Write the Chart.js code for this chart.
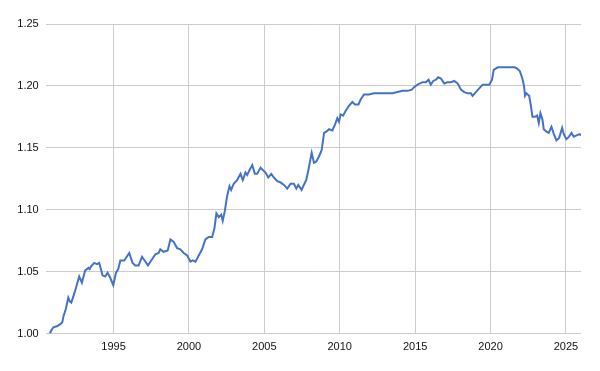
<!DOCTYPE html>
<html>
<head>
<meta charset="utf-8">
<script src="https://cdn.jsdelivr.net/npm/chart.js@4"></script>
<style>
  html, body { margin: 0; padding: 0; background: #fff; }
  #wrap { width: 600px; height: 371px; }
</style>
</head>
<body>
<div id="wrap"><canvas id="chart"></canvas></div>
<script>
// decimal years
const years = [
  1990.77, 1990.9, 1991.01, 1991.28, 1991.51, 1991.6, 1991.68, 1991.84, 1992.0, 1992.1,
  1992.2, 1992.44, 1992.72, 1992.9, 1993.12, 1993.34, 1993.42, 1993.5, 1993.72, 1993.9,
  1994.05, 1994.27, 1994.45, 1994.6, 1994.78, 1994.98, 1995.16, 1995.31, 1995.45, 1995.71,
  1996.04, 1996.26, 1996.44, 1996.66, 1996.89, 1997.06, 1997.28, 1997.5, 1997.77, 1997.99,
  1998.1, 1998.32, 1998.59, 1998.77, 1998.99, 1999.21, 1999.43, 1999.65, 1999.88, 2000.1,
  2000.25, 2000.43, 2000.65, 2000.87, 2001.09, 2001.31, 2001.54, 2001.69, 2001.82, 2001.98,
  2002.14, 2002.24, 2002.38, 2002.53, 2002.69, 2002.8, 2002.97, 2003.2, 2003.42, 2003.57,
  2003.75, 2003.86, 2004.02, 2004.2, 2004.37, 2004.53, 2004.75, 2004.9, 2005.08, 2005.26,
  2005.46, 2005.63, 2005.86, 2006.08, 2006.3, 2006.52, 2006.74, 2006.96, 2007.12, 2007.25,
  2007.47, 2007.62, 2007.78, 2007.92, 2008.14, 2008.29, 2008.45, 2008.62, 2008.8, 2008.96,
  2009.11, 2009.29, 2009.51, 2009.69, 2009.84, 2009.95, 2010.06, 2010.22, 2010.4, 2010.62,
  2010.84, 2011.01, 2011.24, 2011.39, 2011.61, 2011.94, 2012.28, 2012.61, 2012.94, 2013.27,
  2013.5, 2013.83, 2014.16, 2014.5, 2014.78, 2014.93, 2015.16, 2015.49, 2015.71, 2015.89,
  2016.04, 2016.2, 2016.38, 2016.53, 2016.71, 2016.93, 2017.15, 2017.37, 2017.59, 2017.82,
  2018.04, 2018.26, 2018.48, 2018.7, 2018.81, 2019.03, 2019.25, 2019.48, 2019.7, 2019.92,
  2020.1, 2020.21, 2020.48, 2020.76, 2021.04, 2021.38, 2021.6, 2021.76, 2021.94, 2022.11,
  2022.22, 2022.29, 2022.38, 2022.56, 2022.65, 2022.78, 2022.94, 2023.09, 2023.2, 2023.31,
  2023.44, 2023.53, 2023.71, 2023.86, 2024.04, 2024.2, 2024.37, 2024.55, 2024.75, 2024.86,
  2025.03, 2025.21, 2025.37, 2025.52, 2025.7, 2025.92, 2026.0
];

const values = [
  1.000, 1.003, 1.005, 1.006, 1.008, 1.009, 1.014, 1.020, 1.029, 1.026,
  1.025, 1.034, 1.046, 1.041, 1.051, 1.053, 1.052, 1.054, 1.057, 1.056,
  1.057, 1.047, 1.046, 1.049, 1.045, 1.039, 1.049, 1.052, 1.059, 1.059,
  1.065, 1.057, 1.055, 1.055, 1.062, 1.059, 1.055, 1.059, 1.064, 1.065,
  1.068, 1.066, 1.067, 1.076, 1.074, 1.069, 1.068, 1.065, 1.063, 1.058,
  1.059, 1.058, 1.063, 1.068, 1.076, 1.078, 1.078, 1.085, 1.097, 1.094,
  1.096, 1.091, 1.099, 1.111, 1.119, 1.116, 1.121, 1.124, 1.129, 1.124,
  1.130, 1.128, 1.132, 1.136, 1.129, 1.129, 1.134, 1.132, 1.130, 1.126,
  1.129, 1.126, 1.123, 1.122, 1.120, 1.117, 1.121, 1.121, 1.117, 1.120,
  1.116, 1.120, 1.124, 1.132, 1.146, 1.138, 1.139, 1.143, 1.148, 1.162,
  1.163, 1.165, 1.164, 1.169, 1.174, 1.171, 1.177, 1.176, 1.180, 1.184,
  1.187, 1.185, 1.185, 1.189, 1.193, 1.193, 1.194, 1.194, 1.194, 1.194,
  1.194, 1.195, 1.196, 1.196, 1.197, 1.199, 1.201, 1.203, 1.203, 1.205,
  1.201, 1.204, 1.205, 1.207, 1.206, 1.202, 1.203, 1.203, 1.204, 1.202,
  1.197, 1.195, 1.194, 1.194, 1.192, 1.195, 1.198, 1.201, 1.201, 1.201,
  1.205, 1.213, 1.215, 1.215, 1.215, 1.215, 1.215, 1.214, 1.212, 1.206,
  1.200, 1.192, 1.194, 1.192, 1.186, 1.175, 1.175, 1.176, 1.170, 1.178,
  1.173, 1.165, 1.163, 1.162, 1.167, 1.161, 1.156, 1.158, 1.166, 1.161,
  1.157, 1.159, 1.162, 1.159, 1.160, 1.161, 1.160
];

const xTicks = [1995, 2000, 2005, 2010, 2015, 2020, 2025];
const yTicks = [1.00, 1.05, 1.10, 1.15, 1.20, 1.25];

const points = years.map((y, i) => ({ x: y, y: values[i] }));

const ctx = document.getElementById('chart').getContext('2d');
new Chart(ctx, {
    type: 'line',
    data: {
        datasets: [{
            data: points,
            borderColor: '#4472c4',
            borderWidth: 2,
            pointRadius: 0,
            tension: 0,
            fill: false
        }]
    },
    options: {
        responsive: true,
        maintainAspectRatio: false,
        animation: false,
        layout: {
            padding: { left: 0, right: 19, top: 24, bottom: 0 }
        },
        plugins: {
            legend: { display: false },
            tooltip: { enabled: false }
        },
        scales: {
            x: {
                type: 'linear',
                min: 1990.5,
                max: 2026.0,
                afterBuildTicks: axis => {
                    axis.ticks = xTicks.map(v => ({ value: v }));
                },
                afterFit: axis => { axis.height = 37.5; },
                border: { display: false },
                grid: { color: '#cccccc', drawTicks: false },
                ticks: {
                    padding: 7,
                    color: '#111',
                    font: { family: 'Liberation Sans, Arial, sans-serif', size: 11 },
                    callback: v => String(v),
                    maxRotation: 0
                }
            },
            y: {
                min: 1.0,
                max: 1.25,
                afterBuildTicks: axis => {
                    axis.ticks = yTicks.map(v => ({ value: v }));
                },
                afterFit: axis => { axis.width = 45.7; },
                border: { display: false },
                grid: { color: '#cccccc', drawTicks: false },
                ticks: {
                    padding: 7,
                    color: '#111',
                    font: { family: 'Liberation Sans, Arial, sans-serif', size: 11 },
                    callback: v => v.toFixed(2)
                }
            }
        }
    }
});
</script>
</body>
</html>
